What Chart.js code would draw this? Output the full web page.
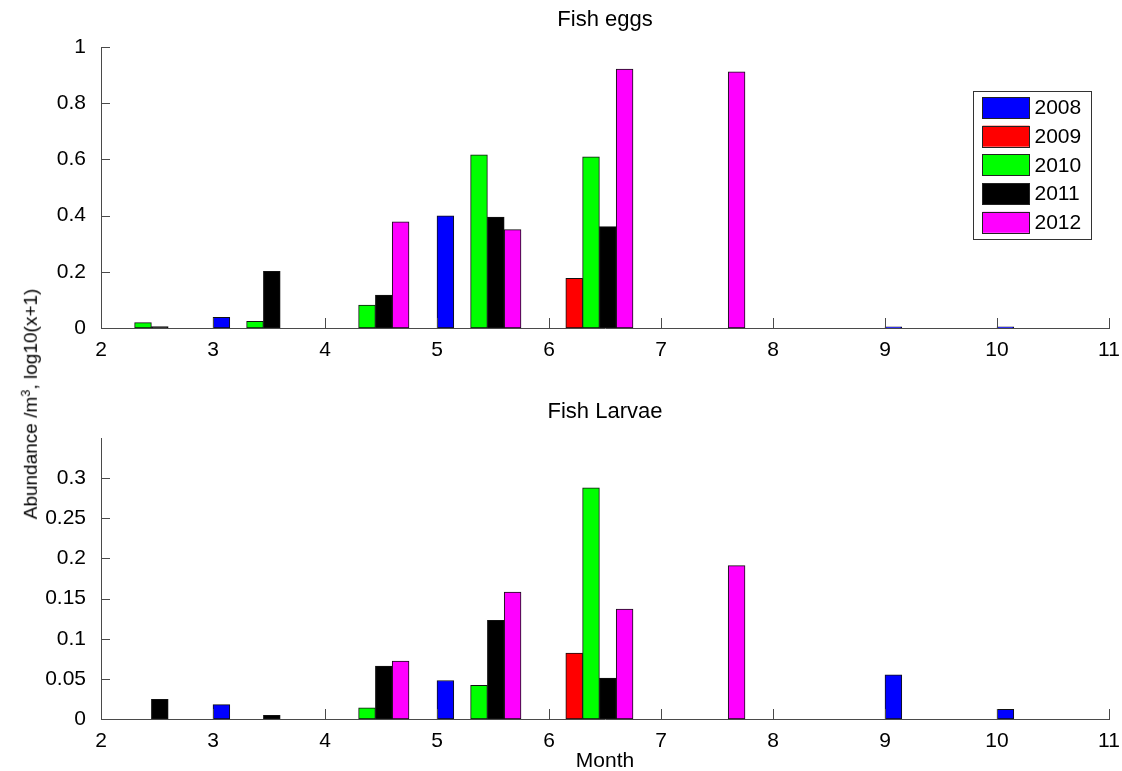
<!DOCTYPE html>
<html>
<head>
<meta charset="utf-8">
<title>Fish eggs and larvae</title>
<script src="https://cdn.jsdelivr.net/npm/chart.js@4.4.1/dist/chart.umd.min.js"></script>
<style>
  html, body { margin: 0; padding: 0; background: #fff; overflow: hidden; }
  #page { position: relative; width: 1122px; height: 771px; }
  #eggsBox { position: absolute; left: 0; top: 0; width: 1122px; height: 380px; }
  #larvaeBox { position: absolute; left: 0; top: 370px; width: 1122px; height: 404px; }
  #ylabel {
    position: absolute; left: 30px; top: 404px;
    transform: translate(-50%, -50%) rotate(-90deg);
    font: 19px "Liberation Sans", Arial, sans-serif; color: #000; white-space: nowrap;
  }
  #ylabel sup { font-size: 13px; }
</style>
</head>
<body>
<div id="page">
  <div id="eggsBox"><canvas id="eggs"></canvas></div>
  <div id="larvaeBox"><canvas id="larvae"></canvas></div>
  <div id="ylabel">Abundance /m<sup>3</sup>, log10(x+1)</div>
</div>
<script>
// months on the x axis (each group starts at the month value)
const months = [2, 3, 4, 5, 6, 7, 8, 9, 10];
const years = ["2008", "2009", "2010", "2011", "2012"];
const yearColors = ["#0000ff", "#ff0000", "#00ff00", "#000000", "#ff00ff"];

// Fish eggs, abundance log10(x+1)
const eggs2008 = [0, 0.038, 0, 0.399, 0, 0, 0, 0.004, 0.004];
const eggs2009 = [0, 0, 0, 0, 0.177, 0, 0, 0, 0];
const eggs2010 = [0.019, 0.024, 0.082, 0.616, 0.609, 0, 0, 0, 0];
const eggs2011 = [0.005, 0.202, 0.117, 0.395, 0.361, 0, 0, 0, 0];
const eggs2012 = [0, 0, 0.378, 0.350, 0.921, 0.912, 0, 0, 0];

// Fish larvae
const larvae2008 = [0, 0.018, 0, 0.048, 0, 0, 0, 0.055, 0.012];
const larvae2009 = [0, 0, 0, 0, 0.082, 0, 0, 0, 0];
const larvae2010 = [0, 0, 0.014, 0.042, 0.288, 0, 0, 0, 0];
const larvae2011 = [0.0245, 0.0046, 0.066, 0.123, 0.051, 0, 0, 0, 0];
const larvae2012 = [0, 0, 0.072, 0.158, 0.137, 0.191, 0, 0, 0];

// tick labels
const monthTicks = [2, 3, 4, 5, 6, 7, 8, 9, 10, 11];
const eggTicks = [0, 0.2, 0.4, 0.6, 0.8, 1];
const larvaeTicks = [0, 0.05, 0.1, 0.15, 0.2, 0.25, 0.3];

const fontFamily = '"Liberation Sans", Arial, Helvetica, sans-serif';
const axisColor = "#4a4a4a";
const slot = 0.15; // width of one year's bar, in months

Chart.defaults.font.family = fontFamily;
Chart.defaults.color = "#000";

const inwardTicks = {
  id: "inwardTicks",
  afterDatasetsDraw(chart) {
    const { ctx, chartArea: a, scales: { x, y } } = chart;
    ctx.save();
    ctx.strokeStyle = axisColor;
    ctx.lineWidth = 1;
    ctx.beginPath();
    x.ticks.forEach((t) => {
      const px = Math.round(x.getPixelForValue(t.value)) + 0.5;
      ctx.moveTo(px, a.bottom);
      ctx.lineTo(px, a.bottom - 10);
    });
    y.ticks.forEach((t) => {
      const py = Math.round(y.getPixelForValue(t.value)) + 0.5;
      ctx.moveTo(a.left, py);
      ctx.lineTo(a.left + 9, py);
    });
    ctx.stroke();
    ctx.restore();
  },
};

const boxLegend = {
  id: "boxLegend",
  afterDraw(chart) {
    const { ctx, chartArea: a } = chart;
    const w = 118, h = 148;
    const x0 = Math.round(a.right - 18.5 - w) + 0.5;
    const y0 = Math.round(a.top + 43.5) + 0.5;
    ctx.save();
    ctx.fillStyle = "#fff";
    ctx.fillRect(x0, y0, w, h);
    ctx.strokeStyle = "#333";
    ctx.lineWidth = 1;
    ctx.strokeRect(x0, y0, w, h);
    ctx.font = `21px ${fontFamily}`;
    ctx.textBaseline = "middle";
    chart.data.datasets.forEach((ds, i) => {
      const sy = y0 + 5.5 + i * 28.7;
      ctx.fillStyle = ds.backgroundColor;
      ctx.fillRect(x0 + 9, sy, 47, 21);
      ctx.strokeStyle = "#222";
      ctx.strokeRect(x0 + 9, Math.round(sy) + 0.5, 47, 21);
      ctx.fillStyle = "#000";
      ctx.fillText(ds.label, x0 + 61, sy + 11.5);
    });
    ctx.restore();
  },
};

function buildDatasets(series) {
  return series.map((vals, i) => ({
    label: years[i],
    data: months.map((m, j) => ({ x: m + slot * (i + 0.5), y: vals[j] || null })),
    backgroundColor: yearColors[i],
    borderColor: "#111",
    borderWidth: 1,
    borderSkipped: false,
    grouped: false,
    barPercentage: 1,
    categoryPercentage: 1,
  }));
}

function makeChart(id, title, series, yMax, yTicks, titlePad, axisHeight, withLegend, xTitle) {
  return new Chart(document.getElementById(id), {
    type: "bar",
    data: { datasets: buildDatasets(series) },
    options: {
      responsive: true,
      maintainAspectRatio: false,
      animation: false,
      layout: { padding: { left: 0, right: 13, top: 0, bottom: 0 } },
      plugins: {
        legend: { display: false },
        tooltip: { enabled: false },
        title: {
          display: true,
          text: title,
          fullSize: false,
          font: { size: 22, weight: "normal" },
          padding: titlePad,
        },
      },
      scales: {
        x: {
          type: "linear",
          min: 2,
          max: 11,
          offset: false,
          grid: { display: false, offset: false },
          border: { display: true, color: axisColor, width: 1 },
          afterBuildTicks: (s) => { s.ticks = monthTicks.map((v) => ({ value: v })); },
          afterFit: (s) => { s.height = axisHeight; },
          ticks: { font: { size: 21 }, padding: 1.5, maxRotation: 0, autoSkip: false, callback: (v) => String(v) },
          title: xTitle
            ? { display: true, text: xTitle, font: { size: 21 }, padding: { top: 0, bottom: 0 } }
            : { display: false },
        },
        y: {
          min: 0,
          max: yMax,
          grid: { display: false },
          border: { display: true, color: axisColor, width: 1 },
          afterBuildTicks: (s) => { s.ticks = yTicks.map((v) => ({ value: v })); },
          afterFit: (s) => { s.width = 101; },
          ticks: { font: { size: 21 }, padding: 7, callback: (v) => String(+Number(v).toFixed(2)) },
        },
      },
    },
    plugins: withLegend ? [inwardTicks, boxLegend] : [inwardTicks],
  });
}

makeChart("eggs", "Fish eggs",
  [eggs2008, eggs2009, eggs2010, eggs2011, eggs2012],
  1, eggTicks, { top: 7, bottom: 13.6 }, 52, true, null);

makeChart("larvae", "Fish Larvae",
  [larvae2008, larvae2009, larvae2010, larvae2011, larvae2012],
  0.35, larvaeTicks, { top: 29, bottom: 12.6 }, 55, false, "Month");
</script>
</body>
</html>
